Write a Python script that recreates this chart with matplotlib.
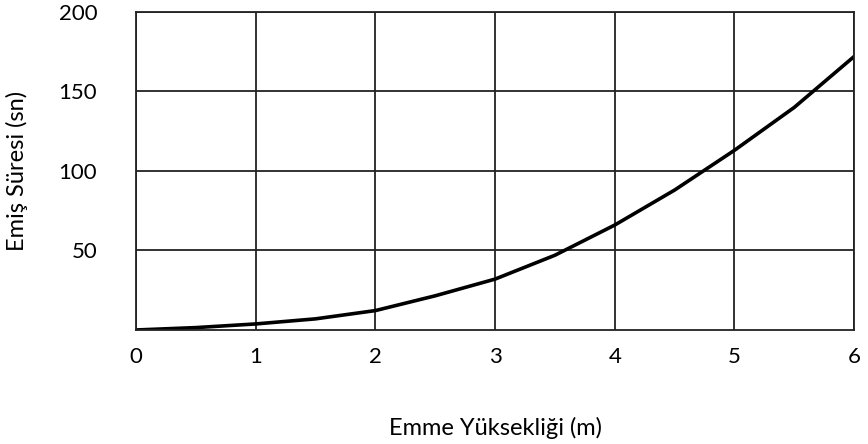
import matplotlib
matplotlib.use('Agg')
import matplotlib.pyplot as plt

# Emme yuksekligi (m) ve emis suresi (sn)
yukseklik = [0, 0.5, 1, 1.5, 2, 2.5, 3, 3.5, 4, 4.5, 5, 5.5, 6]
sure = [0, 1.5, 3.8, 7, 12.2, 21.5, 32, 47, 66, 88, 113, 140, 172]

x_ticks = [0, 1, 2, 3, 4, 5, 6]
y_ticks = [50, 100, 150, 200]

plt.rcParams['font.family'] = ['Lato', 'DejaVu Sans']

fig = plt.figure(figsize=(8.68, 4.44), dpi=100)
ax = fig.add_axes([0.1567, 0.2568, 0.8273, 0.7162])

ax.plot(yukseklik, sure, color='black', linewidth=2.6, solid_capstyle='round',
        solid_joinstyle='round')

ax.set_xlim(0, 6)
ax.set_ylim(0, 200)
ax.set_xticks(x_ticks)
ax.set_yticks(y_ticks)
ax.grid(True, color='#222222', linewidth=1.3)
ax.set_axisbelow(True)
for s in ax.spines.values():
    s.set_color('#222222')
    s.set_linewidth(1.3)

ax.tick_params(length=0, labelsize=16)
ax.tick_params(axis='y', pad=28)
ax.tick_params(axis='x', pad=12)

ax.set_xlabel('Emme Yüksekliği (m)', fontsize=17, labelpad=36)
ax.set_ylabel('Emiş Süresi (sn)', fontsize=17, labelpad=22)

fig.savefig('out.png', dpi=100)
